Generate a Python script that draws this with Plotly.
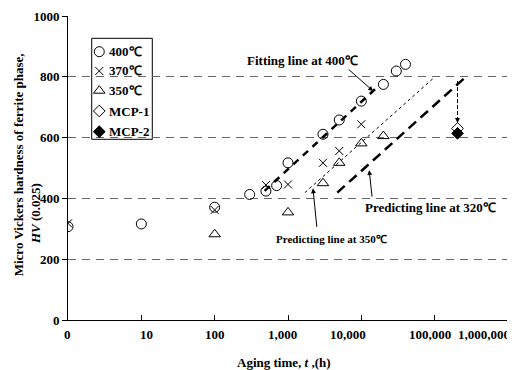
import plotly.graph_objects as go
import numpy as np

# ---- data ----
t400 = [1, 10, 100, 300, 500, 700, 1000, 3000, 5000, 10000, 20000, 30000, 40000]
hv400 = [307, 316, 371, 413, 424, 442, 517, 611, 658, 720, 775, 819, 841]

t370 = [1, 100, 500, 1000, 3000, 5000, 10000]
hv370 = [318, 362, 444, 446, 517, 556, 644]

t350 = [100, 1000, 3000, 5000, 10000, 20000]
hv350 = [282, 354, 450, 517, 581, 605]

t_mcp1 = [205000]
hv_mcp1 = [630]
t_mcp2 = [205000]
hv_mcp2 = [614]

fit400_t = [480, 15500]
fit400_hv = [425, 760]
pred350_t = [1700, 100000]
pred350_hv = [419, 799]
pred320_t = [4700, 261000]
pred320_hv = [419, 798]
drop_t = [205000, 205000]
drop_hv = [786, 652]

x_tickvals = [1, 10, 100, 1000, 10000, 100000, 1000000]
x_ticktext = ['0', '10', '100', '1,000', '10,000', '100,000', '1,000,000']

legend_names = ['400℃', '370℃', '350℃', 'MCP-1', 'MCP-2']

# ---- styles ----
FONT = 'Liberation Serif'
x_label_shift = [-1, 5, 0, -6, -13, -5, -24]  # pixel nudges of tick labels, as in the original
m_400 = dict(symbol='circle-open', size=10, color='black', line=dict(width=1))
m_370 = dict(symbol='x-thin-open', size=8, color='black', line=dict(width=1))
m_350 = dict(symbol='triangle-up-open', size=10, color='black', line=dict(width=1))
m_mcp1 = dict(symbol='diamond-open', size=9, color='black', line=dict(width=1))
m_mcp2 = dict(symbol='diamond', size=9, color='black', line=dict(width=1, color='black'))
marker_styles = [m_400, m_370, m_350, m_mcp1, m_mcp2]

fig = go.Figure()

# fitted / predicted lines
fig.add_trace(go.Scatter(x=fit400_t, y=fit400_hv, mode='lines', showlegend=False,
                         line=dict(color='black', width=2.5, dash='7px,6px')))
fig.add_trace(go.Scatter(x=pred350_t, y=pred350_hv, mode='lines', showlegend=False,
                         line=dict(color='black', width=1, dash='dot')))
fig.add_trace(go.Scatter(x=pred320_t, y=pred320_hv, mode='lines', showlegend=False,
                         line=dict(color='black', width=2.5, dash='10px,6px')))
fig.add_trace(go.Scatter(x=drop_t, y=drop_hv, mode='lines', showlegend=False,
                         line=dict(color='black', width=1, dash='4px,2px')))

# data points
series = [(t400, hv400), (t370, hv370), (t350, hv350), (t_mcp1, hv_mcp1), (t_mcp2, hv_mcp2)]
for (tx, hy), name, ms in zip(series, legend_names, marker_styles):
    fig.add_trace(go.Scatter(x=tx, y=hy, mode='markers', name=name, showlegend=False, marker=ms))

# hand-made legend (compact, like the original) on an overlay [0,1] axis pair
leg_x_marker = 0.0711
leg_x_text = 0.088
leg_y = [0.8826, 0.8191, 0.7543, 0.6875, 0.6194]
for name, ms, yy in zip(legend_names, marker_styles, leg_y):
    fig.add_trace(go.Scatter(x=[leg_x_marker], y=[yy], xaxis='x2', yaxis='y2', mode='markers',
                             showlegend=False, hoverinfo='skip', marker=ms))

annos = []
lg = np.log10
for yy, name in zip(leg_y, legend_names):
    annos.append(dict(x=leg_x_text, y=yy, xref='paper', yref='paper', text='<b>%s</b>' % name,
                      showarrow=False, xanchor='left', yanchor='middle',
                      font=dict(family=FONT, size=13, color='black')))

# x tick labels
for tv, tt, sh in zip(x_tickvals, x_ticktext, x_label_shift):
    annos.append(dict(x=lg(tv), y=-0.0493, xref='x', yref='paper', text='<b>%s</b>' % tt,
                      showarrow=False, xanchor='center', yanchor='middle', xshift=sh,
                      font=dict(family=FONT, size=13, color='black')))

# text labels
annos.append(dict(x=lg(1590), y=855, xref='x', yref='y', text='<b>Fitting line at 400℃</b>',
                  showarrow=False, xanchor='center', yanchor='middle',
                  font=dict(family=FONT, size=13, color='black')))
annos.append(dict(x=lg(88300), y=371, xref='x', yref='y', text='<b>Predicting line at 320℃</b>',
                  showarrow=False, xanchor='center', yanchor='middle',
                  font=dict(family=FONT, size=13, color='black')))
annos.append(dict(x=lg(3930), y=265, xref='x', yref='y', text='<b>Predicting line at 350℃</b>',
                  showarrow=False, xanchor='center', yanchor='middle',
                  font=dict(family=FONT, size=11, color='black')))
# arrows
arrow_style = dict(showarrow=True, arrowhead=2, arrowsize=1, arrowwidth=1, arrowcolor='black', text='',
                   xref='x', yref='y')
annos.append(dict(x=lg(14500), y=753, ax=-26, ay=-23, **arrow_style))
annos.append(dict(x=lg(12800), y=493, ax=3, ay=28, **arrow_style))
annos.append(dict(x=lg(2190), y=433, ax=4, ay=40, **arrow_style))
annos.append(dict(x=lg(205000), y=648, ax=0, ay=-7, **arrow_style))

# axis titles
annos.append(dict(x=-0.1106, y=0.51, xref='paper', yref='paper', textangle=-90,
                  xanchor='center', yanchor='middle',
                  text='<b>Micro Vickers hardness of ferrite phase,</b>', showarrow=False,
                  font=dict(family=FONT, size=13, color='black')))
annos.append(dict(x=-0.0727, y=0.3487, xref='paper', yref='paper', textangle=-90,
                  xanchor='center', yanchor='middle',
                  text='<b><i>HV</i> (0.025)</b>', showarrow=False,
                  font=dict(family=FONT, size=13, color='black')))
annos.append(dict(x=0.491, y=-0.1414, xref='paper', yref='paper',
                  xanchor='center', yanchor='middle',
                  text='<b>Aging time, <i>t</i> ,(h)</b>', showarrow=False,
                  font=dict(family=FONT, size=13, color='black')))

# the page body adds an 8px offset, so margins are shifted to compensate
fig.update_layout(
    width=515, height=370,
    margin=dict(l=60, r=15, t=8, b=58, autoexpand=False),
    paper_bgcolor='white', plot_bgcolor='white',
    font=dict(family=FONT, size=13, color='black'),
    annotations=annos,
    showlegend=False,
    xaxis=dict(type='log', range=[0, 6], tickvals=x_tickvals, ticktext=[''] * len(x_tickvals),
               ticks='inside', ticklen=5, tickcolor='black', showline=True, linecolor='black',
               linewidth=1, showgrid=False, zeroline=False, automargin=False),
    yaxis=dict(range=[0, 1000], dtick=200, ticks='outside', ticklen=5, tickcolor='black',
               showline=True, linecolor='black', linewidth=1, showgrid=True,
               gridcolor='#666666', griddash='8px,6px', gridwidth=1, zeroline=False,
               automargin=False,
               tickfont=dict(family=FONT, size=13, color='black', weight='bold')),
    xaxis2=dict(range=[0, 1], overlaying='x', visible=False, fixedrange=True, automargin=False),
    yaxis2=dict(range=[0, 1], overlaying='y', visible=False, fixedrange=True, automargin=False),
    shapes=[
        dict(type='line', xref='paper', yref='paper', x0=1, x1=1, y0=0, y1=1,
             line=dict(color='black', width=1)),
        dict(type='rect', xref='paper', yref='paper', x0=0.0539, x1=0.1916, y0=0.5944, y1=0.9266,
             fillcolor='white', line=dict(color='black', width=1), layer='between'),
    ],
)

fig.write_html('out.html')
